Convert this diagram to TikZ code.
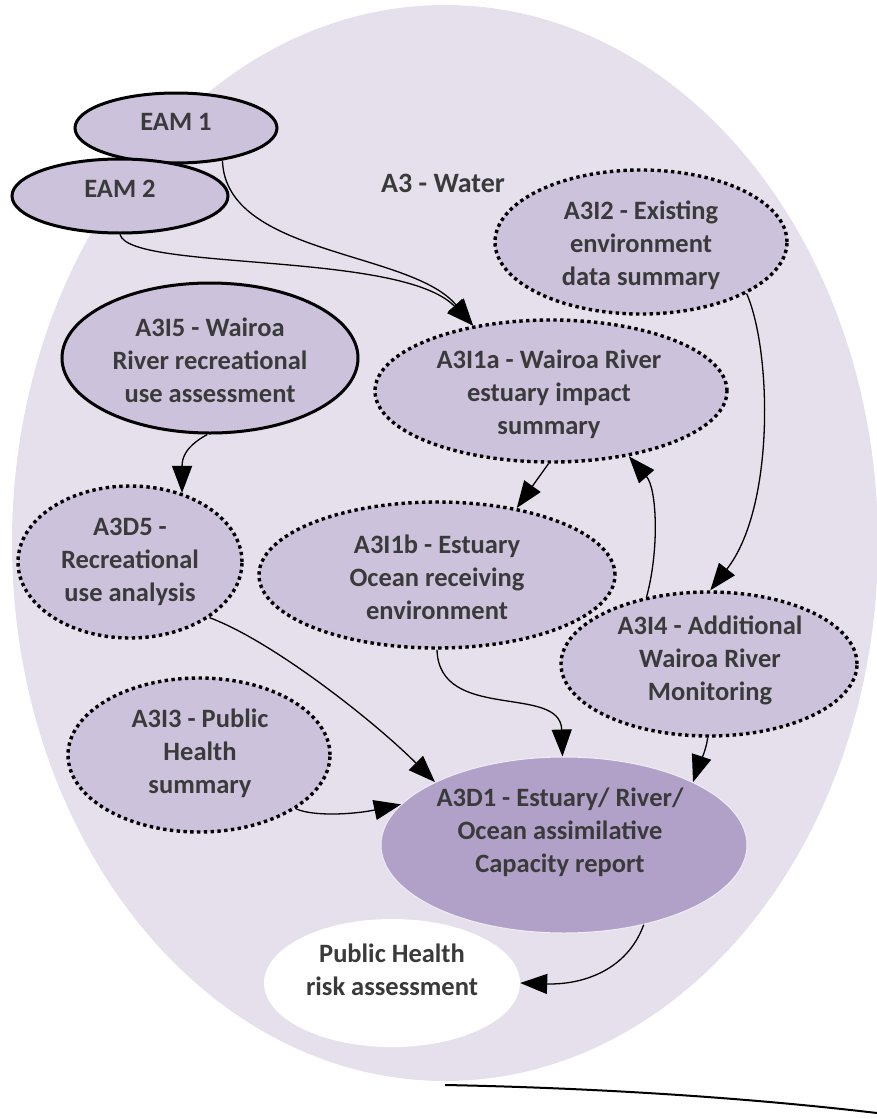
\documentclass[tikz,border=0pt]{standalone}
\usepackage{fontspec}
\setmainfont{Carlito}
\usetikzlibrary{arrows.meta,shapes.geometric}
\definecolor{wash}{HTML}{E5E0EC}
\definecolor{bubblefill}{HTML}{CDC2DC}
\definecolor{reportfill}{HTML}{B1A1C9}
\definecolor{ink}{HTML}{3A3A3A}
\tikzset{
  bubble/.style={ellipse, inner sep=0pt, fill=bubblefill},
  solidring/.style={bubble, draw=black, line width=3pt},
  dotring/.style={bubble, draw=black, line width=3.4pt, dash pattern=on 3.4pt off 3.4pt},
  nodetext/.style={align=center, text=ink, inner sep=0pt,
    font=\bfseries\fontsize{26.5}{33}\selectfont},
  link/.style={-{Triangle[length=27pt,width=20pt]}, line width=1.3pt, draw=black},
}
\begin{document}
\begin{tikzpicture}[x=1pt, y=-1pt]
\useasboundingbox (0,0) rectangle (877,1119);
\clip (0,0) rectangle (877,1119);

% group area
\fill[wash] (445,543) ellipse [x radius=433pt, y radius=538pt];

% nodes
\node[solidring, minimum width=202pt, minimum height=70pt] (eam1) at (176,128) {};
\node[solidring, minimum width=216pt, minimum height=74pt] (eam2) at (120,196) {};
\node[dotring, minimum width=292pt, minimum height=144pt] (a3i2) at (641,242) {};
\node[dotring, minimum width=352pt, minimum height=142pt] (a1a) at (551,391) {};
\node[solidring, minimum width=296pt, minimum height=150pt] (a3i5) at (210,358) {};
\node[dotring, minimum width=224pt, minimum height=152pt] (a3d5) at (130,562) {};
\node[dotring, minimum width=356pt, minimum height=146pt] (a1b) at (437,575) {};
\node[dotring, minimum width=296pt, minimum height=144pt] (a3i4) at (709,664) {};
\node[dotring, minimum width=262pt, minimum height=154pt] (a3i3) at (199,755) {};
\node[ellipse, inner sep=0pt, fill=reportfill, draw=white!80!reportfill, line width=1pt,
      minimum width=366pt, minimum height=176pt] (a3d1) at (564,845) {};
\node[ellipse, inner sep=0pt, fill=white, minimum width=256pt, minimum height=128pt] (ph) at (392,983) {};

% texts
\node[nodetext] (t-eam1) at (176,122) {EAM 1};
\node[nodetext] (t-eam2) at (120,189) {EAM 2};
\node[nodetext, font=\bfseries\fontsize{28}{33}\selectfont] (t-group) at (443,183) {A3 - Water};
\node[nodetext] (t-a3i2) at (641,245) {A3I2 - Existing\\environment\\data summary};
\node[nodetext] (t-a1a) at (549,394) {A3I1a - Wairoa River\\estuary impact\\summary};
\node[nodetext] (t-a3i5) at (210,360) {A3I5 - Wairoa\\River recreational\\use assessment};
\node[nodetext] (t-a3d5) at (130,562) {A3D5 -\\Recreational\\use analysis};
\node[nodetext] (t-a1b) at (437,577) {A3I1b - Estuary\\Ocean receiving\\environment};
\node[nodetext] (t-a3i4) at (710,660) {A3I4 - Additional\\Wairoa River\\Monitoring};
\node[nodetext] (t-a3i3) at (200,753) {A3I3 - Public\\Health\\summary};
\node[nodetext] (t-a3d1) at (560,832) {A3D1 - Estuary/ River/\\Ocean assimilative\\Capacity report};
\node[nodetext] (t-ph) at (392,970) {Public Health\\risk assessment};

% connectors
\draw[link] (eam1.-35) .. controls +(3,95) and +(-62,-75) .. (a1a.140);
\draw[link] (eam2.-90) .. controls +(10,37) and +(-72,-75) .. (a1a.140);
\draw[link] (a3i2.-26) .. controls +(25,57) and +(65,-83) .. (a3i4.89);
\draw[link] (a3i4.133) .. controls +(13,-48) and +(28,32) .. (a1a.-40);
\draw[link] (a1a.-92) -- (a1b.40);
\draw[link] (a3i5.-92) .. controls +(-22,12) and +(0,-35) .. (a3d5.53);
\draw[link] (a3d5.-35) .. controls +(62,23) and +(-62,-62) .. (a3d1.154);
\draw[link] (a1b.-90) .. controls +(2,73) and +(-2,-73) .. (a3d1.91);
\draw[link] (a3i4.-91) .. controls +(-2,15) and +(5,-15) .. (a3d1.26);
\draw[link] (a3i3.-29) .. controls +(17,8) and +(-47,10) .. (a3d1.166);
\draw[link] (a3d1.-45) .. controls +(-17,47) and +(60,2) .. (ph.0);

% rule along the bottom
\coordinate (rule-a) at (445,1085);
\coordinate (rule-b) at (877,1113);
\draw[line width=2pt] (rule-a) .. controls (600,1088) and (750,1098) .. (rule-b);
\end{tikzpicture}
\end{document}
